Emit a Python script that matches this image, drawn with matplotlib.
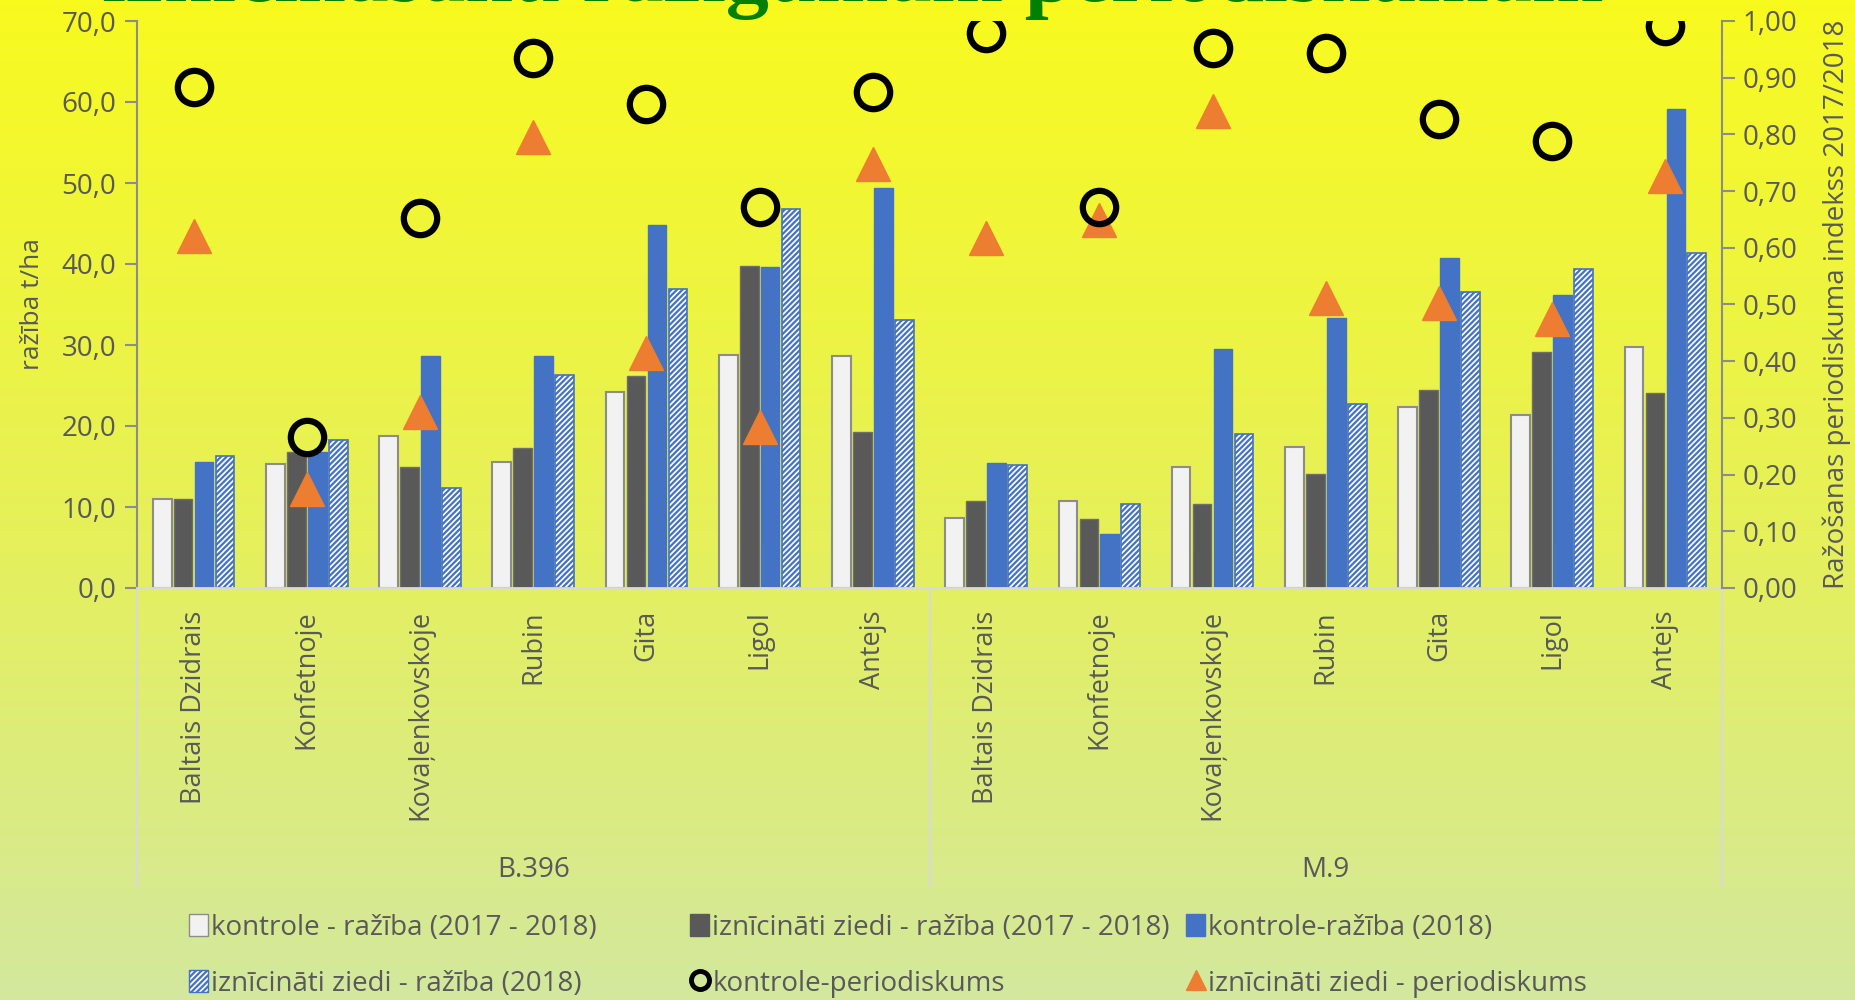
import numpy as np
import matplotlib.pyplot as plt
from matplotlib.colors import LinearSegmentedColormap
from matplotlib.lines import Line2D
from matplotlib.patches import Patch

plt.rcParams['font.family'] = ['Open Sans', 'DejaVu Sans']
plt.rcParams['hatch.linewidth'] = 1.6

groups = ["B.396", "M.9"]
varieties = ["Baltais Dzidrais", "Konfetnoje", "Kovaļenkovskoje", "Rubin", "Gita", "Ligol", "Antejs"]

kontrole_avg = [11.0, 15.3, 18.8, 15.6, 24.2, 28.8, 28.6,
                8.6, 10.7, 15.0, 17.4, 22.3, 21.4, 29.7]
iznic_avg = [11.0, 16.8, 15.0, 17.3, 26.2, 39.8, 19.3,
             10.7, 8.5, 10.4, 14.1, 24.5, 29.1, 24.1]
kontrole_2018 = [15.5, 16.8, 28.6, 28.6, 44.8, 39.6, 49.4,
                 15.4, 6.7, 29.5, 33.3, 40.7, 36.2, 59.1]
iznic_2018 = [16.3, 18.3, 12.3, 26.3, 36.9, 46.8, 33.1,
              15.2, 10.4, 19.0, 22.7, 36.5, 39.4, 41.3]
kontrole_per = [0.883, 0.267, 0.653, 0.935, 0.854, 0.672, 0.875,
                0.979, 0.672, 0.952, 0.944, 0.827, 0.789, 0.992]
iznic_per = [0.620, 0.175, 0.311, 0.795, 0.415, 0.284, 0.747,
             0.618, 0.649, 0.841, 0.511, 0.503, 0.474, 0.727]

labels = ["kontrole - ražība (2017 - 2018)", "iznīcināti ziedi - ražība (2017 - 2018)",
          "kontrole-ražība (2018)", "iznīcināti ziedi - ražība (2018)",
          "kontrole-periodiskums", "iznīcināti ziedi - periodiskums"]

txt = '#595959'
blue = '#4472C4'
orange = '#ED7D31'

fig = plt.figure(figsize=(18.55, 10), dpi=100)

# background gradient
bg = fig.add_axes([0, 0, 1, 1], zorder=-10)
cmap = LinearSegmentedColormap.from_list('bg', [(0, '#F8FA1E'), (0.55, '#E5F05C'), (1, '#D3E89E')])
bg.imshow(np.linspace(0, 1, 256).reshape(-1, 1), aspect='auto', cmap=cmap, extent=[0, 1, 0, 1])
bg.axis('off')

# title, mostly cut off at the top edge
fig.text(0.055, 0.9995, "iznīcināšanu ražīgumam periodiskumam", color='#008000',
         fontsize=62, fontweight='bold', family='Liberation Serif', va='baseline', ha='left')

ax = fig.add_axes([137 / 1855, 1 - 588 / 1000, (1722 - 137) / 1855, (588 - 21) / 1000])
ax.set_facecolor('none')
x = np.arange(len(kontrole_avg))
w = 0.165
step = 0.185
ax.bar(x - 1.5 * step, kontrole_avg, w, color='#F2F2F2', edgecolor='#8C8C8C', linewidth=1.5, zorder=2)
ax.bar(x - 0.5 * step, iznic_avg, w, color='#595959', edgecolor='#6E6E6E', linewidth=1, zorder=2)
ax.bar(x + 0.5 * step, kontrole_2018, w, color=blue, edgecolor=blue, linewidth=1, zorder=2)
ax.bar(x + 1.5 * step, iznic_2018, w, color='white', edgecolor=blue, hatch='//////', linewidth=1.2, zorder=2)

ax.set_xlim(-0.5, 13.5)
ax.set_ylim(0, 70)
ax.set_yticks(np.arange(0, 71, 10))
ax.set_yticklabels([f"{v:.1f}".replace('.', ',') for v in np.arange(0, 71, 10)])
ax.set_xticks(x)
ax.set_xticklabels(varieties * 2, rotation=90, va='top', ha='center')
ax.tick_params(axis='x', length=0, pad=16, labelsize=19.5, labelcolor=txt)
ax.tick_params(axis='y', direction='out', length=9, width=1.5, color='#8C8C8C', labelsize=20, labelcolor=txt, pad=6)
ax.spines['top'].set_visible(False)
ax.spines['right'].set_visible(False)
ax.spines['left'].set_color('#8C8C8C')
ax.spines['left'].set_linewidth(1.5)
ax.spines['bottom'].set_color('#D9D9D9')
ax.spines['bottom'].set_linewidth(2)
ax.set_ylabel("ražība t/ha", color=txt, fontsize=19, labelpad=12)

trans = ax.get_xaxis_transform()
for xs in [-0.5, 6.5, 13.5]:
    ax.plot([xs, xs], [0, -0.528], transform=trans, color='#D9D9D9', lw=1.5, clip_on=False)
for i, g in enumerate(groups):
    ax.text(3 + 7 * i, -0.497, g, transform=trans, ha='center', va='center', fontsize=20, color=txt)

ax2 = ax.twinx()
ax2.set_ylim(0, 1)
ax2.set_yticks(np.arange(0, 1.01, 0.1))
ax2.set_yticklabels([f"{v:.2f}".replace('.', ',') for v in np.arange(0, 1.01, 0.1)])
ax2.tick_params(axis='y', direction='out', length=9, width=1.5, color='#8C8C8C', labelsize=20, labelcolor=txt, pad=6)
for s in ['top', 'left', 'bottom']:
    ax2.spines[s].set_visible(False)
ax2.spines['right'].set_color('#8C8C8C')
ax2.spines['right'].set_linewidth(1.5)
ax2.set_ylabel("Ražošanas periodiskuma indekss 2017/2018", color=txt, fontsize=20, labelpad=18)

ax2.plot(x, iznic_per, linestyle='none', marker='^', ms=24, color=orange, mec=orange, zorder=3)
ax2.plot(x, kontrole_per, linestyle='none', marker='o', ms=24, mfc='none', mec='black', mew=4.5, zorder=4)

handles = [
    Patch(facecolor='#F2F2F2', edgecolor='#8C8C8C'),
    Patch(facecolor='#595959', edgecolor='#595959'),
    Patch(facecolor=blue, edgecolor=blue),
    Patch(facecolor='white', edgecolor=blue, hatch='//////'),
    Line2D([], [], linestyle='none', marker='o', ms=13, mfc='none', mec='black', mew=3.5),
    Line2D([], [], linestyle='none', marker='^', ms=14, color=orange),
]
col_x = [189 / 1855, 690 / 1855, 1186 / 1855]
for c in range(3):
    leg = fig.legend([handles[c], handles[c + 3]], [labels[c], labels[c + 3]],
                     loc='upper left', bbox_to_anchor=(col_x[c], 1 - 914 / 1000),
                     frameon=False, fontsize=20, handlelength=0.7, handleheight=0.85,
                     handletextpad=0.1, labelspacing=1.0, borderpad=0, borderaxespad=0)
    for t in leg.get_texts():
        t.set_color(txt)

fig.savefig("out.png", dpi=100)
